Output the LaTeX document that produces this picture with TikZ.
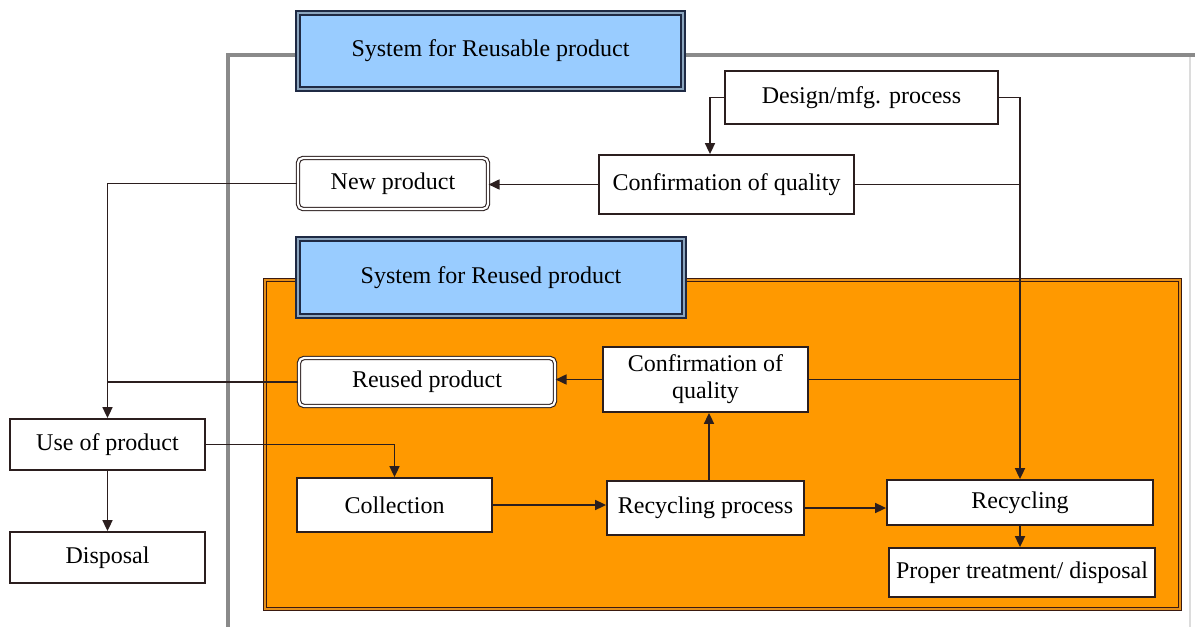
\documentclass[tikz,border=0pt]{standalone}
\usepackage{fontspec}
\setmainfont{Liberation Serif}
\usetikzlibrary{arrows.meta}
\definecolor{lineC}{HTML}{2B1E1E}
\definecolor{navyC}{HTML}{1F2A44}
\definecolor{blueF}{HTML}{99CCFF}
\definecolor{orangeF}{HTML}{FF9900}
\definecolor{brownC}{HTML}{3A1A10}
\definecolor{frameC}{HTML}{8A8A8A}
\tikzset{
  box/.style={draw=lineC, line width=1.8pt, fill=white, rectangle, inner sep=0pt, align=center},
  sysbox/.style={draw=navyC, line width=1.6pt, double=blueF!50!gray, double distance=2pt, fill=blueF, inner sep=0pt},
  prodbox/.style={draw=lineC, line width=1.1pt, double=white, double distance=2.2pt, rounded corners=5pt, fill=white, inner sep=0pt},
  conn/.style={draw=lineC, line width=1.7pt},
  arr/.style={conn, -{Triangle[length=11pt,width=10pt]}},
}
\begin{document}
\begin{tikzpicture}[x=1pt,y=-1pt, font=\fontsize{24}{27}\selectfont]
\useasboundingbox (0,0) rectangle (1195,627);
% outer frame of the reusable system
\draw[frameC!30, line width=1.5pt] (1190,55) -- (1190,627);
\draw[frameC, line width=4.5pt] (1195,55) -- (228,55) -- (228,627);
% orange reused system area
\draw[draw=brownC, line width=1.4pt, double=orangeF!60!brown, double distance=2pt, fill=orangeF] (265,280) rectangle (1180,609);

\node[sysbox, minimum width=385pt, minimum height=76pt] (sys1) at (490.5,51) {System for Reusable product};
\node[sysbox, minimum width=386pt, minimum height=77pt] (sys2) at (491,277.5) {System for Reused product};

\node[box, minimum width=273pt, minimum height=53pt] (design) at (861.5,97.5) {Design/mfg. process};
\node[box, minimum width=255pt, minimum height=59pt] (conf1) at (726.5,184.5) {Confirmation of quality};
\node[prodbox, minimum width=190pt, minimum height=51pt] (newp) at (393,183.5) {New product};
\node[prodbox, minimum width=256pt, minimum height=48pt] (reused) at (427,382) {Reused product};
\node[box, minimum width=205pt, minimum height=65pt] (conf2) at (705.5,379.5) {Confirmation of\\quality};
\node[box, minimum width=195pt, minimum height=51pt] (use) at (107.5,444.5) {Use of product};
\node[box, minimum width=195pt, minimum height=51pt] (disp) at (107.5,557.5) {Disposal};
\node[box, minimum width=195pt, minimum height=54pt] (coll) at (394.5,505) {Collection};
\node[box, minimum width=197pt, minimum height=54pt] (recp) at (705.5,508) {Recycling process};
\node[box, minimum width=266pt, minimum height=45pt] (recy) at (1020,502.5) {Recycling};
\node[box, minimum width=266pt, minimum height=49pt] (proper) at (1022,572.5) {Proper treatment/ disposal};

% connectors
\draw[arr] (design.west) -| ([xshift=-16.5pt]conf1.north);
\draw[arr] (design.east) -| (recy.north);
\draw[conn] (conf1.east) -- (conf1.east -| recy.north);
\draw[arr] (conf1.west) -- (conf1.west -| newp.east);
\draw[arr] (newp.west) -| (use.north);
\draw[conn] (reused.west) -- (reused.west -| use.north);
\draw[arr] (conf2.west) -- (conf2.west -| reused.east);
\draw[conn] (conf2.east) -- (conf2.east -| recy.north);
\draw[arr] (use.east) -| (coll.north);
\draw[arr] (use.south) -- (disp.north);
\draw[arr] (coll.east) -- (coll.east -| recp.west);
\draw[arr] ([xshift=3.5pt]recp.north) -- ([xshift=3.5pt]conf2.south);
\draw[arr] (recp.east) -- (recp.east -| recy.west);
\draw[arr] (recy.south) -- (recy.south |- proper.north);
\end{tikzpicture}
\end{document}
